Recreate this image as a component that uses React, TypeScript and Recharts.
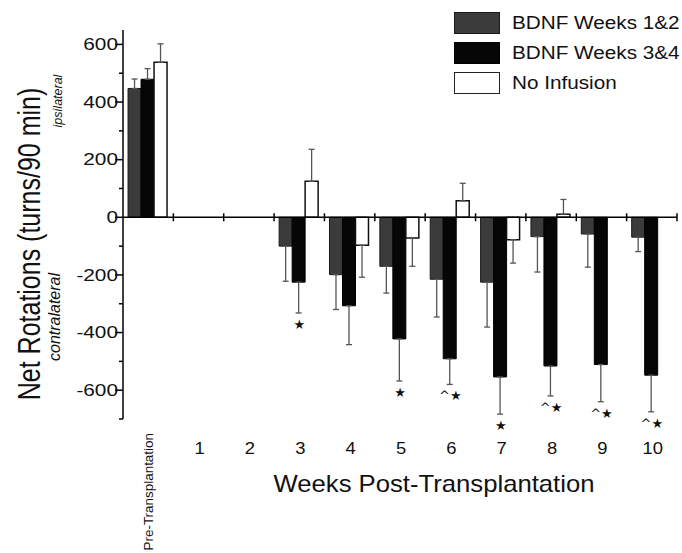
import React from 'react';
import { ComposedChart, Bar, XAxis, YAxis, ErrorBar, Scatter, ReferenceLine, Legend } from 'recharts';

const categories = ['Pre-Transplantation', '1', '2', '3', '4', '5', '6', '7', '8', '9', '10'];
const gray = [447, null, null, -100, -199, -170, -215, -225, -67, -58, -69];
const grayErr = [33, null, null, 122, 121, 93, 131, 156, 123, 115, 50];
const black = [479, null, null, -225, -307, -422, -491, -554, -516, -511, -548];
const blackErr = [37, null, null, 107, 135, 146, 89, 129, 104, 129, 127];
const white = [538, null, null, 125, -97, -72, 57, -78, 11, null, null];
const whiteErr = [64, null, null, 111, 111, 98, 61, 81, 51, null, null];
const marks = ['', '', '', '★', '', '★', '^★', '★', '^★', '^★', '^★'];
const yTicks = [-700, -600, -500, -400, -300, -200, -100, 0, 100, 200, 300, 400, 500, 600];
const seriesNames = ['BDNF Weeks 1&2', 'BDNF Weeks 3&4', 'No Infusion'];

const FONT = '"Liberation Sans", Arial, Helvetica, sans-serif';
const GRAY = '#3b3b3b';
const BLACK = '#060606';
const WHITE = '#ffffff';

const W = 682;
const H = 553;
const MARGIN = { top: 30, right: 5, left: 0, bottom: 0 };
const Y_AXIS_W = 123;
const X_AXIS_H = 134;
const Y_MIN = -700;
const Y_MAX = 650;
const PLOT_TOP = MARGIN.top;
const PLOT_H = H - MARGIN.top - MARGIN.bottom - X_AXIS_H;
const PLOT_LEFT = MARGIN.left + Y_AXIS_W;
const PLOT_W = W - PLOT_LEFT - MARGIN.right;
const ZERO_Y = PLOT_TOP + (PLOT_H * Y_MAX) / (Y_MAX - Y_MIN);
const BAND = PLOT_W / categories.length;

const asym = (v: number | null, e: number | null) =>
  v == null || e == null ? undefined : v >= 0 ? [0, e] : [e, 0];

const data = categories.map((cat, i) => ({
  cat,
  gray: gray[i],
  black: black[i],
  white: white[i],
  grayE: asym(gray[i], grayErr[i]),
  blackE: asym(black[i], blackErr[i]),
  whiteE: asym(white[i], whiteErr[i]),
  mark: marks[i],
  ann: marks[i] && black[i] != null && blackErr[i] != null ? black[i]! - blackErr[i]! : null,
}));

const XTick = (props: any) => {
  const { x, y, payload, index } = props;
  const last = categories.length - 1;
  const marksEls: any[] = [];
  if (index > 0) {
    marksEls.push(
      <line key="l" x1={x - BAND / 2} x2={x - BAND / 2} y1={ZERO_Y - 4} y2={ZERO_Y + 4} stroke="#000" strokeWidth={1.5} />
    );
  }
  if (index === last) {
    marksEls.push(
      <line key="r" x1={x + BAND / 2} x2={x + BAND / 2} y1={ZERO_Y - 4} y2={ZERO_Y + 4} stroke="#000" strokeWidth={1.5} />
    );
  }
  let label;
  if (index === 0) {
    label = (
      <text
        transform={`translate(${x + 5},${y + 14}) rotate(-90) scale(1.12,1)`}
        textAnchor="end"
        fontSize={12}
        fontFamily={FONT}
        fill="#111"
      >
        {payload.value}
      </text>
    );
  } else {
    label = (
      <text
        transform={`translate(${x + 1},${y + 35}) scale(1.15,1)`}
        textAnchor="middle"
        fontSize={16}
        fontFamily={FONT}
        fill="#111"
      >
        {payload.value}
      </text>
    );
  }
  return (
    <g>
      {marksEls}
      {label}
    </g>
  );
};

const YTick = (props: any) => {
  const { x, y, payload } = props;
  const v = payload.value;
  const major = v % 200 === 0;
  return (
    <g>
      <line x1={x - (major ? 8 : 4)} x2={x} y1={y} y2={y} stroke="#000" strokeWidth={1.5} />
      {major && (
        <text
          transform={`translate(${x - 5},${y}) scale(1.3,1)`}
          textAnchor="end"
          dy="0.36em"
          fontSize={16}
          fontFamily={FONT}
          fill="#111"
        >
          {v}
        </text>
      )}
    </g>
  );
};

const YLabel = () => (
  <g fontFamily={FONT} fill="#111">
    <text transform={`translate(40,244) rotate(-90) scale(1,1.25)`} textAnchor="middle" fontSize={25}>
      Net Rotations (turns/90 min)
    </text>
    <text transform={`translate(62,101) rotate(-90)`} textAnchor="middle" fontSize={12.5} fontStyle="italic">
      ipsilateral
    </text>
    <text transform={`translate(60,317) rotate(-90)`} textAnchor="middle" fontSize={16} fontStyle="italic">
      contralateral
    </text>
  </g>
);

const XLabel = () => (
  <text
    transform={`translate(434,492) scale(1.07,1)`}
    textAnchor="middle"
    fontSize={24}
    fontFamily={FONT}
    fill="#111"
  >
    Weeks Post-Transplantation
  </text>
);

const legendStyles = [
  { fill: GRAY, stroke: '#1a1a1a' },
  { fill: BLACK, stroke: '#000' },
  { fill: WHITE, stroke: '#222' },
];

const LegendContent = (props: any) => {
  const items = (props.payload || []).filter((p: any) => seriesNames.includes(p.value));
  return (
    <div style={{ fontFamily: FONT }}>
      {items.map((it: any, i: number) => (
        <div key={i} style={{ display: 'flex', alignItems: 'center', height: 22, marginBottom: 8 }}>
          <div
            style={{
              width: 46,
              height: 22,
              boxSizing: 'border-box',
              background: legendStyles[i].fill,
              border: `1.5px solid ${legendStyles[i].stroke}`,
            }}
          />
          <span
            style={{
              marginLeft: 12,
              fontSize: 18,
              color: '#111',
              display: 'inline-block',
              transform: 'scaleX(1.15)',
              transformOrigin: 'left center',
              whiteSpace: 'nowrap',
            }}
          >
            {it.value}
          </span>
        </div>
      ))}
    </div>
  );
};

const AnnShape = (props: any) => {
  const { cx, cy, payload } = props;
  if (!payload || !payload.mark || cy == null || isNaN(cy)) return <g />;
  return (
    <text x={cx} y={cy + 16} textAnchor="middle" fontSize={13} fontFamily='"DejaVu Sans", sans-serif' fill="#111">
      {payload.mark}
    </text>
  );
};

export default function App() {
  return (
    <div style={{ position: 'absolute', left: 0, top: 0, width: W, height: H, background: '#fff' }}>
      <ComposedChart
        width={W}
        height={H}
        data={data}
        margin={MARGIN}
        barCategoryGap="10%"
        barGap={0}
      >
        <XAxis
          dataKey="cat"
          height={X_AXIS_H}
          axisLine={false}
          tickLine={false}
          tickSize={0}
          tickMargin={0}
          interval={0}
          tick={<XTick />}
          label={<XLabel />}
        />
        <YAxis
          width={Y_AXIS_W}
          domain={[Y_MIN, Y_MAX]}
          ticks={yTicks}
          interval={0}
          tickLine={false}
          tickSize={0}
          tickMargin={0}
          axisLine={{ stroke: '#000', strokeWidth: 1.5 }}
          tick={<YTick />}
          label={<YLabel />}
        />
        <Legend
          layout="vertical"
          align="center"
          verticalAlign="middle"
          wrapperStyle={{ top: 12, left: 454, width: 228 }}
          content={<LegendContent />}
        />
        <Bar dataKey="gray" name={seriesNames[0]} fill={GRAY} stroke="#1a1a1a" strokeWidth={1} isAnimationActive={false}>
          <ErrorBar dataKey="grayE" width={3} stroke="#555" strokeWidth={1.3} direction="y" />
        </Bar>
        <Bar dataKey="black" name={seriesNames[1]} fill={BLACK} stroke="#000" strokeWidth={1} isAnimationActive={false}>
          <ErrorBar dataKey="blackE" width={3} stroke="#555" strokeWidth={1.3} direction="y" />
        </Bar>
        <Bar dataKey="white" name={seriesNames[2]} fill={WHITE} stroke="#111" strokeWidth={1.5} isAnimationActive={false}>
          <ErrorBar dataKey="whiteE" width={3} stroke="#555" strokeWidth={1.3} direction="y" />
        </Bar>
        <ReferenceLine y={0} stroke="#000" strokeWidth={1.5} />
        <Scatter dataKey="ann" legendType="none" shape={<AnnShape />} isAnimationActive={false} />
      </ComposedChart>
    </div>
  );
}
